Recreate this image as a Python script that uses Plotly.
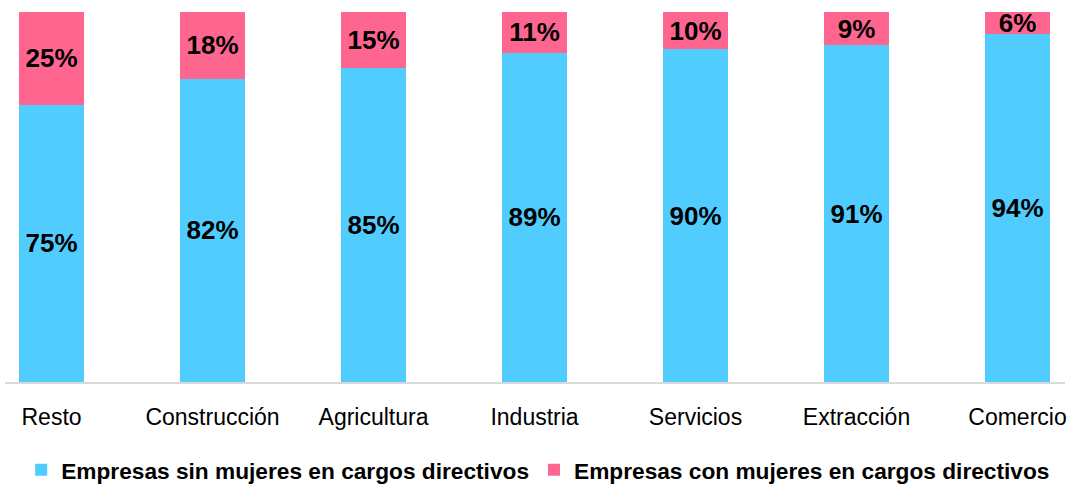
import plotly.graph_objects as go

categories = ["Resto", "Construcción", "Agricultura", "Industria", "Servicios", "Extracción", "Comercio"]
sin_mujeres = [75, 82, 85, 89, 90, 91, 94]
con_mujeres = [25, 18, 15, 11, 10, 9, 6]

BLUE = "#50CDFE"
PINK = "#FE6690"
FONT = "Liberation Sans Narrow, Arial Narrow, Liberation Sans, Arial"

fig = go.Figure()
fig.add_trace(go.Bar(
    x=categories, y=sin_mujeres, name="Empresas sin mujeres en cargos directivos",
    marker=dict(color=BLUE, line=dict(width=0)),
    text=[f"{v}%" for v in sin_mujeres], textposition="inside", insidetextanchor="middle",
    textangle=0, textfont=dict(family=FONT, size=26, color="black", weight="bold"),
))
fig.add_trace(go.Bar(
    x=categories, y=con_mujeres, name="Empresas con mujeres en cargos directivos",
    marker=dict(color=PINK, line=dict(width=0)),
    text=[f"{v}%" for v in con_mujeres], textposition="inside", insidetextanchor="middle",
    textangle=0, textfont=dict(family=FONT, size=26, color="black", weight="bold"),
))

fig.update_layout(
    barmode="stack",
    bargap=0.596,
    width=1068, height=487,
    margin=dict(l=5, r=3, t=12, b=105, autoexpand=False),
    plot_bgcolor="white", paper_bgcolor="white",
    uniformtext=dict(minsize=26, mode="show"),
    showlegend=True,
    legend=dict(orientation="h", x=0.503, xanchor="center", y=0.035, yanchor="middle",
                yref="container", bgcolor="rgba(0,0,0,0)",
                font=dict(family=FONT, size=22.7, color="black", weight="bold"),
                itemwidth=30, traceorder="normal"),
    xaxis=dict(range=[-0.289, 6.295], showline=True, linecolor="#D9D9D9", linewidth=2,
               ticks="", tickfont=dict(family=FONT, size=23, color="black"),
               ticklabelstandoff=13, automargin=False),
    yaxis=dict(range=[0, 100], visible=False, automargin=False),
)

fig.write_html("out.html", config={"displayModeBar": False},
               post_script="document.body.style.margin='0';document.body.style.overflow='hidden';")
